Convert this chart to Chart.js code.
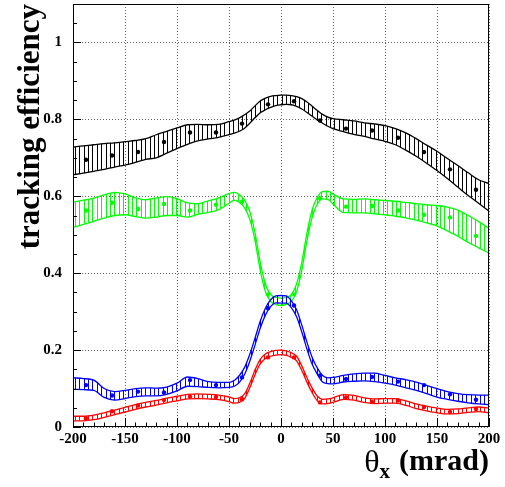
<!DOCTYPE html>
<html>
<head>
<meta charset="utf-8">
<script src="https://cdn.jsdelivr.net/npm/chart.js@4.4.1/dist/chart.umd.min.js"></script>
<style>
  html, body { margin: 0; padding: 0; background: #fff; }
  canvas { display: block; }
</style>
</head>
<body>
<canvas id="effChart" width="505" height="487"></canvas>
<script>
const xs = [-200, -190, -180, -170, -160, -150, -140, -130, -120, -110, -100, -90, -80, -70, -60, -50,
    -45, -40, -35, -30, -25, -20, -15, -10, -5, 0, 5, 10, 15, 20, 25, 30, 35, 40, 45,
    50, 60, 70, 80, 90, 100, 110, 120, 130, 140, 150, 160, 170, 180, 190, 200];

const blackHi = [0.728, 0.731, 0.734, 0.737, 0.739, 0.742, 0.745, 0.750, 0.760, 0.769, 0.778, 0.786, 0.787, 0.786, 0.787, 0.794,
    0.798, 0.804, 0.812, 0.822, 0.835, 0.848, 0.855, 0.860, 0.862, 0.863, 0.863, 0.862, 0.859, 0.854, 0.845, 0.834, 0.823, 0.813, 0.806,
    0.802, 0.799, 0.796, 0.791, 0.788, 0.784, 0.776, 0.765, 0.750, 0.733, 0.717, 0.698, 0.680, 0.661, 0.643, 0.633];
const blackLo = [0.656, 0.660, 0.665, 0.670, 0.676, 0.681, 0.688, 0.696, 0.700, 0.712, 0.724, 0.735, 0.744, 0.749, 0.753, 0.760,
    0.764, 0.769, 0.777, 0.790, 0.804, 0.817, 0.825, 0.831, 0.836, 0.838, 0.839, 0.838, 0.834, 0.827, 0.818, 0.808, 0.798, 0.790, 0.782,
    0.776, 0.768, 0.761, 0.756, 0.749, 0.743, 0.734, 0.720, 0.704, 0.686, 0.667, 0.646, 0.624, 0.602, 0.582, 0.561];

const greenHi = [0.585, 0.590, 0.595, 0.604, 0.610, 0.606, 0.596, 0.591, 0.596, 0.599, 0.594, 0.583, 0.581, 0.588, 0.596, 0.607,
    0.610, 0.604, 0.590, 0.560, 0.505, 0.428, 0.372, 0.345, 0.337, 0.335, 0.337, 0.345, 0.372, 0.428, 0.505, 0.565, 0.598, 0.612, 0.613,
    0.606, 0.593, 0.592, 0.593, 0.591, 0.589, 0.587, 0.584, 0.581, 0.578, 0.576, 0.572, 0.564, 0.550, 0.534, 0.517];
const greenLo = [0.519, 0.527, 0.535, 0.543, 0.550, 0.552, 0.547, 0.543, 0.546, 0.550, 0.550, 0.546, 0.553, 0.558, 0.565, 0.582,
    0.590, 0.584, 0.570, 0.540, 0.485, 0.408, 0.352, 0.327, 0.319, 0.316, 0.319, 0.327, 0.352, 0.408, 0.485, 0.545, 0.580, 0.593, 0.592,
    0.580, 0.558, 0.557, 0.557, 0.554, 0.552, 0.548, 0.544, 0.538, 0.531, 0.523, 0.510, 0.496, 0.480, 0.466, 0.452];

const blueHi = [0.128, 0.126, 0.122, 0.100, 0.092, 0.095, 0.100, 0.102, 0.101, 0.104, 0.114, 0.130, 0.126, 0.118, 0.116, 0.116,
    0.121, 0.134, 0.155, 0.189, 0.231, 0.275, 0.309, 0.331, 0.341, 0.342, 0.341, 0.328, 0.305, 0.265, 0.220, 0.181, 0.153, 0.134, 0.128,
    0.129, 0.134, 0.138, 0.140, 0.140, 0.134, 0.128, 0.123, 0.117, 0.108, 0.100, 0.092, 0.087, 0.084, 0.083, 0.083];
const blueLo = [0.098, 0.097, 0.095, 0.077, 0.070, 0.074, 0.079, 0.081, 0.081, 0.085, 0.094, 0.106, 0.105, 0.103, 0.102, 0.103,
    0.106, 0.116, 0.137, 0.171, 0.213, 0.257, 0.291, 0.313, 0.323, 0.322, 0.322, 0.310, 0.287, 0.247, 0.202, 0.163, 0.137, 0.117, 0.113,
    0.112, 0.117, 0.119, 0.120, 0.118, 0.114, 0.109, 0.102, 0.095, 0.087, 0.078, 0.072, 0.067, 0.063, 0.060, 0.058];

const redHi = [0.028, 0.028, 0.031, 0.037, 0.044, 0.051, 0.058, 0.064, 0.069, 0.075, 0.080, 0.085, 0.086, 0.085, 0.083, 0.078,
    0.074, 0.076, 0.086, 0.114, 0.148, 0.176, 0.190, 0.196, 0.199, 0.200, 0.198, 0.193, 0.184, 0.159, 0.128, 0.101, 0.080, 0.072, 0.073,
    0.076, 0.084, 0.082, 0.076, 0.073, 0.074, 0.074, 0.068, 0.060, 0.054, 0.049, 0.046, 0.047, 0.050, 0.052, 0.049];
const redLo = [0.016, 0.016, 0.019, 0.025, 0.032, 0.039, 0.046, 0.052, 0.057, 0.063, 0.068, 0.073, 0.074, 0.073, 0.071, 0.066,
    0.062, 0.064, 0.074, 0.102, 0.136, 0.164, 0.178, 0.184, 0.187, 0.188, 0.186, 0.181, 0.172, 0.147, 0.116, 0.089, 0.068, 0.060, 0.061,
    0.064, 0.072, 0.070, 0.064, 0.061, 0.062, 0.062, 0.056, 0.048, 0.042, 0.037, 0.034, 0.035, 0.038, 0.040, 0.037];

// measured points (bin centres)
const ptX = [-187.5, -162.5, -137.5, -112.5, -87.5, -62.5, -37.5, -12.5, 12.5, 37.5, 62.5, 87.5, 112.5, 137.5, 162.5, 187.5];
const blackPts = [0.695, 0.706, 0.715, 0.741, 0.766, 0.766, 0.789, 0.839, 0.847, 0.797, 0.776, 0.771, 0.752, 0.715, 0.670, 0.617];
const greenPts = [0.563, 0.583, 0.567, 0.580, 0.563, 0.578, 0.586, 0.345, 0.345, 0.595, 0.573, 0.575, 0.563, 0.552, 0.545, 0.497];
const bluePts = [0.109, 0.082, 0.092, 0.090, 0.122, 0.109, 0.129, 0.309, 0.316, 0.134, 0.125, 0.130, 0.118, 0.109, 0.085, 0.071];
const redPts = [0.023, 0.041, 0.056, 0.070, 0.079, 0.078, 0.072, 0.181, 0.181, 0.064, 0.077, 0.065, 0.069, 0.052, 0.039, 0.047];

const BLACK = '#000000', GREEN = '#00ff00', BLUE = '#0000ff', RED = '#ff0000';
const serif = '"Liberation Serif", "DejaVu Serif", serif';

// vertical hatching like ROOT fill style
function hatch(color) {
    const c = document.createElement('canvas');
    c.width = 22;
    c.height = 8;
    const g = c.getContext('2d');
    g.fillStyle = color;
    [0, 4, 9, 13, 18].forEach(x => g.fillRect(x, 0, 1, 8));
    return g.createPattern(c, 'repeat');
}

const toXY = (xv, yv) => xv.map((x, i) => ({ x: x, y: yv[i] }));

function pointSet(vals, color) {
    return {
        data: toXY(ptX, vals),
        showLine: false,
        pointRadius: 2.2,
        pointBackgroundColor: color,
        pointBorderColor: color,
        pointBorderWidth: 0,
        fill: false
    };
}

function bandPair(hi, lo, color) {
    return [{
        data: toXY(xs, hi),
        borderColor: color,
        borderWidth: 1.3,
        pointRadius: 0,
        cubicInterpolationMode: 'monotone',
        fill: '+1',
        backgroundColor: hatch(color)
    }, {
        data: toXY(xs, lo),
        borderColor: color,
        borderWidth: 1.3,
        pointRadius: 0,
        cubicInterpolationMode: 'monotone',
        fill: false
    }];
}

// first dataset ends up on top
const datasets = [
    pointSet(redPts, RED),
    pointSet(bluePts, BLUE),
    pointSet(greenPts, GREEN),
    pointSet(blackPts, BLACK),
    ...bandPair(redHi, redLo, RED),
    ...bandPair(blueHi, blueLo, BLUE),
    ...bandPair(greenHi, greenLo, GREEN),
    ...bandPair(blackHi, blackLo, BLACK)
];

// frame, inner ticks and the x title with its subscript
const rootFrame = {
    id: 'rootFrame',
    afterDatasetsDraw(chart) {
        const { ctx, chartArea: a, scales: { x, y } } = chart;
        ctx.save();
        ctx.strokeStyle = '#000';
        ctx.lineWidth = 1;
        ctx.beginPath();
        for (let v = -200; v <= 200; v += 10) {
            const px = Math.round(x.getPixelForValue(v)) + 0.5;
            const len = v % 50 === 0 ? 9 : 4.5;
            ctx.moveTo(px, a.bottom);
            ctx.lineTo(px, a.bottom - len);
        }
        for (let k = 0; k <= 22; k++) {
            const py = Math.round(y.getPixelForValue(k * 0.05)) + 0.5;
            const len = k % 4 === 0 ? 8 : 4;
            ctx.moveTo(a.left, py);
            ctx.lineTo(a.left + len, py);
        }
        ctx.stroke();
        ctx.strokeRect(Math.round(a.left) + 0.5, Math.round(a.top) + 0.5,
            Math.round(a.right - a.left) - 1, Math.round(a.bottom - a.top) - 1);

        // x axis title: θ_x (mrad), right aligned to the frame
        ctx.fillStyle = '#000';
        ctx.textBaseline = 'alphabetic';
        ctx.font = 'bold 30px ' + serif;
        const unit = '(mrad)';
        const uw = ctx.measureText(unit).width;
        const ux = a.right - uw;
        ctx.textAlign = 'left';
        ctx.fillText(unit, ux, a.bottom + 43);
        ctx.font = 'bold 21px ' + serif;
        ctx.textAlign = 'right';
        const subEnd = ux - 9;
        ctx.fillText('x', subEnd, a.bottom + 51);
        const sw = ctx.measureText('x').width;
        ctx.font = '32px ' + serif;
        ctx.fillText('θ', subEnd - sw, a.bottom + 45);
        ctx.restore();
    }
};

const tickFont = { family: serif, size: 15, weight: 'bold' };

new Chart(document.getElementById('effChart').getContext('2d'), {
    type: 'line',
    data: { datasets: datasets },
    plugins: [rootFrame],
    options: {
        responsive: false,
        animation: false,
        layout: { padding: { top: 4, right: 16, left: 0, bottom: 0 } },
        plugins: {
            legend: { display: false },
            tooltip: { enabled: false }
        },
        scales: {
            x: {
                type: 'linear',
                min: -200,
                max: 200,
                ticks: { stepSize: 50, font: tickFont, color: '#000', padding: 3, autoSkip: false, maxRotation: 0 },
                grid: { color: '#666', drawTicks: false, lineWidth: 1 },
                border: { display: false, dash: [1, 2] },
                afterFit(s) {
                    s.height = 60;
                    s.paddingLeft = 0;
                    s.paddingRight = 0;
                }
            },
            y: {
                type: 'linear',
                min: 0,
                max: 1.1,
                ticks: {
                    stepSize: 0.2, font: tickFont, color: '#000', padding: 11, autoSkip: false,
                    callback: v => String(Number(v.toFixed(2)))
                },
                grid: { color: '#666', drawTicks: false, lineWidth: 1 },
                border: { display: false, dash: [1, 2] },
                title: {
                    display: true,
                    text: 'tracking efficiency',
                    align: 'end',
                    color: '#000',
                    font: { family: serif, size: 31, weight: 'bold', lineHeight: 1 },
                    padding: { top: 15, bottom: 0 }
                },
                afterBuildTicks(s) {
                    s.ticks = s.ticks.filter(t => t.value <= 1.0001);
                },
                afterFit(s) {
                    s.width = 73;
                    s.paddingTop = 0;
                    s.paddingBottom = 0;
                }
            }
        }
    }
});
</script>
</body>
</html>
